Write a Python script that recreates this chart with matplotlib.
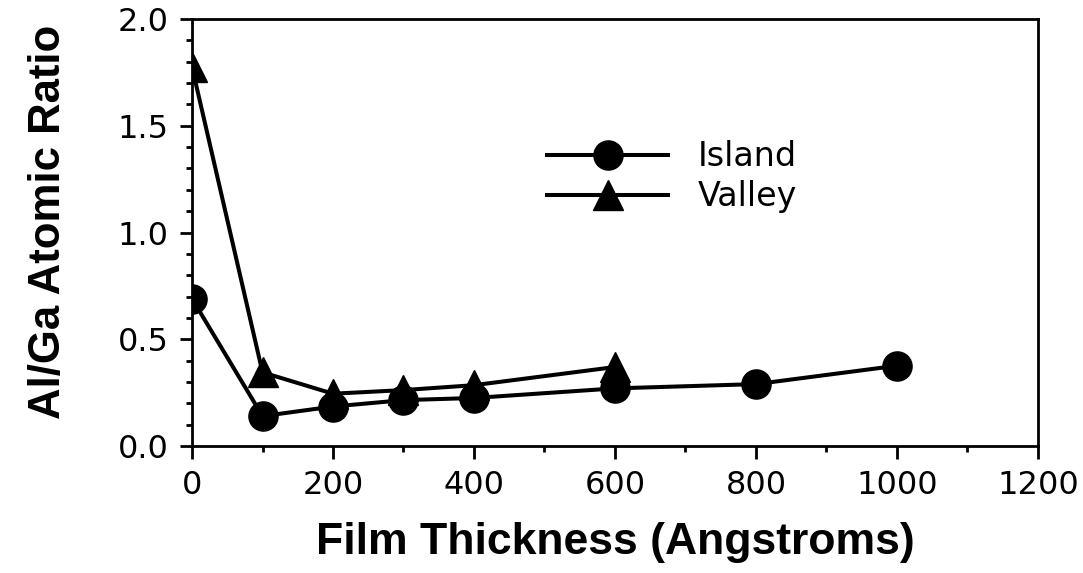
import matplotlib
matplotlib.use("Agg")
import matplotlib.pyplot as plt
from matplotlib.ticker import MultipleLocator, FormatStrFormatter

island_x = [0, 100, 200, 300, 400, 600, 800, 1000]
island_y = [0.69, 0.14, 0.185, 0.215, 0.225, 0.27, 0.29, 0.376]
valley_x = [0, 100, 200, 300, 400, 600]
valley_y = [1.775, 0.345, 0.245, 0.262, 0.285, 0.37]

fig = plt.figure(figsize=(10.83, 5.73), dpi=100)
ax = fig.add_axes([0.1773, 0.2216, 0.9584 - 0.1773, 0.9668 - 0.2216])

ax.plot(island_x, island_y, color="black", lw=2.9, marker="o", ms=21, label="Island", zorder=3)
ax.plot(valley_x, valley_y, color="black", lw=2.9, marker="^", ms=21, label="Valley", zorder=3)

ax.set_xlim(0, 1200)
ax.set_ylim(0, 2.0)
ax.xaxis.set_major_locator(MultipleLocator(200))
ax.xaxis.set_minor_locator(MultipleLocator(100))
ax.yaxis.set_major_locator(MultipleLocator(0.5))
ax.yaxis.set_minor_locator(MultipleLocator(0.1))
ax.yaxis.set_major_formatter(FormatStrFormatter("%.1f"))

for s in ax.spines.values():
    s.set_linewidth(2.0)
ax.tick_params(which="major", direction="out", length=9, width=2, labelsize=23, pad=8)
ax.tick_params(which="minor", direction="out", length=4.5, width=2)
ax.tick_params(top=False, right=False, which="both")

ax.set_xlabel("Film Thickness (Angstroms)", fontsize=32, fontweight="bold",
              family=["Liberation Sans", "DejaVu Sans"])
ax.set_ylabel("Al/Ga Atomic Ratio", fontsize=31.5, fontweight="bold",
              family=["Liberation Sans", "DejaVu Sans"])
ax.xaxis.set_label_coords(0.5, -0.178)
ax.yaxis.set_label_coords(-0.145, 0.525)

ax.legend(loc="upper left", bbox_to_anchor=(0.42, 0.716), frameon=False,
          fontsize=24, handlelength=3.63, handletextpad=0.87, labelspacing=0.21,
          borderpad=0, borderaxespad=0)

fig.savefig("out.png", dpi=100)
